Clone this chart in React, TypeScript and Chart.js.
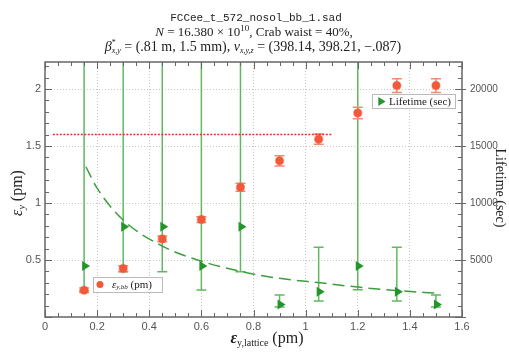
import React, { useEffect, useRef } from "react";
import { Chart, registerables } from "chart.js";

Chart.register(...registerables);

const xVals = [0.15, 0.3, 0.45, 0.6, 0.75, 0.9, 1.05, 1.2, 1.35, 1.5];
const bbVals = [0.235, 0.425, 0.685, 0.855, 1.138, 1.37, 1.56, 1.79, 2.03, 2.03];
const bbErr = [0.02, 0.025, 0.025, 0.025, 0.035, 0.045, 0.045, 0.05, 0.06, 0.06];
const lifeVals = [4470, 7920, 7920, 4470, 7920, 1100, 2220, 4470, 2220, 1100];
const lifeLow = [2300, 3970, 3970, 2370, 3970, 880, 1400, 2400, 1400, 880];
const lifeHigh = [40000, 40000, 40000, 40000, 40000, 1930, 6110, 40000, 6110, 1930];
const fitX = [0.157, 0.2, 0.3, 0.46, 0.607, 0.755, 0.9, 1.055, 1.21, 1.356, 1.503];
const fitY = [13180, 11300, 8510, 6110, 4850, 3970, 3390, 3000, 2600, 2310, 2080];
const refX = [0.03, 1.1];
const refY = [1.6, 1.6];
const y2Ticks = [5000, 10000, 15000, 20000];
const titleLine1 = "FCCee_t_572_nosol_bb_1.sad";

const RED = "#f2583a";
const RED_ERR = "#f08a70";
const GREEN = "#22962a";
const GREEN_LINE = "#62b862";
const SERIF = "'Liberation Serif', 'DejaVu Serif', serif";
const SANS = "'Liberation Sans', Arial, sans-serif";

type Seg = { t: string; size: number; italic?: boolean; bold?: boolean; dy?: number; fam?: string; noAdvance?: boolean };

function segFont(s: Seg) {
  return `${s.italic ? "italic " : ""}${s.bold ? "bold " : ""}${s.size}px ${s.fam || SERIF}`;
}

function richWidth(ctx: CanvasRenderingContext2D, segs: Seg[]) {
  let w = 0;
  for (const s of segs) {
    if (s.noAdvance) continue;
    ctx.font = segFont(s);
    w += ctx.measureText(s.t).width;
  }
  return w;
}

function drawRich(ctx: CanvasRenderingContext2D, segs: Seg[], x: number, y: number, align: "left" | "center", color: string) {
  const w = richWidth(ctx, segs);
  let cx = align === "center" ? x - w / 2 : x;
  ctx.fillStyle = color;
  ctx.textAlign = "left";
  ctx.textBaseline = "middle";
  for (const s of segs) {
    ctx.font = segFont(s);
    ctx.fillText(s.t, cx, y + (s.dy || 0));
    if (!s.noAdvance) cx += ctx.measureText(s.t).width;
  }
}

function drawTriangle(ctx: CanvasRenderingContext2D, x: number, y: number, r: number) {
  ctx.beginPath();
  ctx.moveTo(x + r, y);
  ctx.lineTo(x - r * 0.6, y - r);
  ctx.lineTo(x - r * 0.6, y + r);
  ctx.closePath();
  ctx.fill();
}

const decorPlugin = {
  id: "decor",
  beforeDatasetsDraw(chart: any) {
    const ctx = chart.ctx as CanvasRenderingContext2D;
    const a = chart.chartArea;
    const xs = chart.scales.x;
    const ys = chart.scales.y;
    const y2 = chart.scales.y2;
    ctx.save();
    ctx.beginPath();
    ctx.rect(a.left, a.top, a.right - a.left, a.bottom - a.top);
    ctx.clip();
    ctx.strokeStyle = GREEN_LINE;
    ctx.lineWidth = 1.5;
    for (let i = 0; i < xVals.length; i++) {
      const px = xs.getPixelForValue(xVals[i]);
      const lo = y2.getPixelForValue(lifeLow[i]);
      const hi = y2.getPixelForValue(lifeHigh[i]);
      ctx.beginPath();
      ctx.moveTo(px, lo);
      ctx.lineTo(px, hi);
      ctx.moveTo(px - 5, lo);
      ctx.lineTo(px + 5, lo);
      ctx.moveTo(px - 5, hi);
      ctx.lineTo(px + 5, hi);
      ctx.stroke();
    }
    ctx.strokeStyle = RED_ERR;
    ctx.lineWidth = 1.5;
    for (let i = 0; i < xVals.length; i++) {
      const px = xs.getPixelForValue(xVals[i]);
      const lo = ys.getPixelForValue(bbVals[i] - bbErr[i]);
      const hi = ys.getPixelForValue(bbVals[i] + bbErr[i]);
      ctx.beginPath();
      ctx.moveTo(px, lo);
      ctx.lineTo(px, hi);
      ctx.moveTo(px - 5, lo);
      ctx.lineTo(px + 5, lo);
      ctx.moveTo(px - 5, hi);
      ctx.lineTo(px + 5, hi);
      ctx.stroke();
    }
    ctx.restore();
  },
  afterDatasetsDraw(chart: any) {
    const ctx = chart.ctx as CanvasRenderingContext2D;
    const xs = chart.scales.x;
    const y2 = chart.scales.y2;
    ctx.save();
    ctx.fillStyle = GREEN;
    for (let i = 0; i < xVals.length; i++) {
      drawTriangle(ctx, xs.getPixelForValue(xVals[i]) + 1, y2.getPixelForValue(lifeVals[i]), 5);
    }
    ctx.restore();
  },
  afterDraw(chart: any) {
    const ctx = chart.ctx as CanvasRenderingContext2D;
    const a = chart.chartArea;
    const xs = chart.scales.x;
    const ys = chart.scales.y;
    const y2 = chart.scales.y2;
    ctx.save();
    ctx.strokeStyle = "#666";
    ctx.lineWidth = 1.5;
    ctx.strokeRect(a.left, a.top, a.right - a.left, a.bottom - a.top);
    ctx.lineWidth = 1;
    ctx.beginPath();
    for (let k = 0; k <= 32; k++) {
      const v = k * 0.05;
      const px = Math.round(xs.getPixelForValue(v)) + 0.5;
      const len = k % 4 === 0 ? 7 : 4;
      ctx.moveTo(px, a.bottom);
      ctx.lineTo(px, a.bottom - len);
      ctx.moveTo(px, a.top);
      ctx.lineTo(px, a.top + len);
    }
    for (let k = 0; k <= 22; k++) {
      const v = k * 0.1;
      const py = Math.round(ys.getPixelForValue(v)) + 0.5;
      const len = k % 5 === 0 ? 7 : 4;
      ctx.moveTo(a.left, py);
      ctx.lineTo(a.left + len, py);
    }
    for (let k = 0; k <= 22; k++) {
      const v = k * 1000;
      const py = Math.round(y2.getPixelForValue(v)) + 0.5;
      if (k % 5 === 0) {
        ctx.moveTo(a.right - 7, py);
        ctx.lineTo(a.right + 4, py);
      } else {
        ctx.moveTo(a.right, py);
        ctx.lineTo(a.right - 4, py);
      }
    }
    ctx.stroke();

    drawRich(ctx, [{ t: titleLine1, size: 11, fam: "'Liberation Mono', 'DejaVu Sans Mono', monospace" }], 256, 18, "center", "#222");
    drawRich(
      ctx,
      [
        { t: "N", size: 13, italic: true },
        { t: " = 16.380 × 10", size: 13 },
        { t: "10", size: 9, dy: -4 },
        { t: ", Crab waist = 40%,", size: 13 },
      ],
      254,
      33,
      "center",
      "#222"
    );
    drawRich(
      ctx,
      [
        { t: "β", size: 14, italic: true },
        { t: "*", size: 8, dy: -4, noAdvance: true },
        { t: "x,y", size: 8, italic: true, dy: 4 },
        { t: " = (.81 m, 1.5 mm), ", size: 14 },
        { t: "ν", size: 14, italic: true },
        { t: "x,y,z", size: 8, italic: true, dy: 4 },
        { t: " = (398.14, 398.21, −.087)", size: 14 },
      ],
      253,
      47,
      "center",
      "#222"
    );

    drawRich(
      ctx,
      [
        { t: "ε", size: 16, italic: true, bold: true },
        { t: "y,lattice", size: 10, dy: 4 },
        { t: " (pm)", size: 16 },
      ],
      267,
      339,
      "center",
      "#222"
    );

    ctx.save();
    ctx.translate(18, 193);
    ctx.rotate(-Math.PI / 2);
    drawRich(
      ctx,
      [
        { t: "ε", size: 16, italic: true },
        { t: "y", size: 10, italic: true, dy: 4 },
        { t: " (pm)", size: 16 },
      ],
      0,
      0,
      "center",
      "#222"
    );
    ctx.restore();

    ctx.save();
    ctx.translate(500, 188);
    ctx.rotate(Math.PI / 2);
    drawRich(ctx, [{ t: "Lifetime (sec)", size: 14 }], 0, 0, "center", "#222");
    ctx.restore();

    ctx.fillStyle = "#fff";
    ctx.strokeStyle = "#bbb";
    ctx.lineWidth = 1;
    ctx.fillRect(372, 94, 83, 14);
    ctx.strokeRect(372.5, 94.5, 83, 14);
    ctx.fillStyle = GREEN;
    drawTriangle(ctx, 381, 101.5, 4.5);
    drawRich(ctx, [{ t: "Lifetime (sec)", size: 11 }], 389, 102, "left", "#222");

    ctx.fillStyle = "#fff";
    ctx.strokeStyle = "#bbb";
    ctx.fillRect(93, 277, 69, 15);
    ctx.strokeRect(93.5, 277.5, 69, 15);
    ctx.fillStyle = RED;
    ctx.beginPath();
    ctx.arc(100, 284.5, 3.5, 0, Math.PI * 2);
    ctx.fill();
    drawRich(
      ctx,
      [
        { t: "ε", size: 11, italic: true },
        { t: "y,bb", size: 7, italic: true, dy: 2.5 },
        { t: " (pm)", size: 11 },
      ],
      112,
      285,
      "left",
      "#222"
    );
    ctx.restore();
  },
};

export default function App() {
  const ref = useRef<HTMLCanvasElement | null>(null);
  useEffect(() => {
    if (!ref.current) return;
    const gridColor = (c: any) => {
      const v = c.tick ? c.tick.value : 0;
      if (c.scale.id === "x" && (v <= 0.001 || v >= 1.599)) return "rgba(0,0,0,0)";
      if (c.scale.id === "y" && v <= 0.001) return "rgba(0,0,0,0)";
      return "#c8c8c8";
    };
    const chart = new Chart(ref.current, {
      type: "scatter",
      data: {
        datasets: [
          {
            label: "ref",
            type: "line",
            data: refX.map((x, i) => ({ x, y: refY[i] })),
            yAxisID: "y",
            borderColor: "#e0302a",
            borderWidth: 1.5,
            borderDash: [2, 1.5],
            pointRadius: 0,
            fill: false,
          } as any,
          {
            label: "fit",
            type: "line",
            data: fitX.map((x, i) => ({ x, y: fitY[i] })),
            yAxisID: "y2",
            borderColor: "#3e9e3e",
            borderWidth: 1.5,
            borderDash: [12, 6],
            pointRadius: 0,
            cubicInterpolationMode: "monotone",
            fill: false,
          } as any,
          {
            label: "ε_y,bb (pm)",
            data: xVals.map((x, i) => ({ x, y: bbVals[i] })),
            yAxisID: "y",
            pointRadius: 4,
            pointStyle: "circle",
            backgroundColor: RED,
            borderColor: "rgba(242,88,58,0.45)",
            borderWidth: 1.5,
          },
        ],
      },
      options: {
        responsive: false,
        animation: false,
        events: [],
        layout: { padding: { top: 62, left: 0, right: 0, bottom: 0 } },
        plugins: { legend: { display: false }, tooltip: { enabled: false }, title: { display: false } },
        scales: {
          x: {
            type: "linear",
            min: 0,
            max: 1.6,
            ticks: {
              stepSize: 0.2,
              includeBounds: false,
              padding: 3,
              color: "#555",
              font: { family: SANS, size: 11 },
              callback: (v: any) => String(Number(Number(v).toFixed(1))),
            },
            grid: { color: gridColor, drawTicks: false, tickLength: 0, lineWidth: 1 },
            border: { display: false, dash: [1, 2] },
            afterFit: (s: any) => {
              s.height = 35;
            },
          },
          y: {
            type: "linear",
            position: "left",
            min: 0,
            max: 2.237,
            ticks: {
              stepSize: 0.5,
              includeBounds: false,
              padding: 4,
              color: "#555",
              font: { family: SANS, size: 11 },
              callback: (v: any) => (Number(v) === 0 ? "" : String(Number(Number(v).toFixed(1)))),
            },
            grid: { color: gridColor, drawTicks: false, tickLength: 0, lineWidth: 1 },
            border: { display: false, dash: [1, 2] },
            afterFit: (s: any) => {
              s.width = 45;
            },
          },
          y2: {
            type: "linear",
            position: "right",
            min: 0,
            max: 22370,
            afterBuildTicks: (s: any) => {
              s.ticks = y2Ticks.map((v) => ({ value: v }));
            },
            ticks: {
              padding: 8,
              color: "#555",
              font: { family: SANS, size: 10 },
              callback: (v: any) => String(v),
            },
            grid: { display: false, drawTicks: false, tickLength: 0 },
            border: { display: false },
            afterFit: (s: any) => {
              s.width = 47;
            },
          },
        },
      },
      plugins: [decorPlugin],
    } as any);
    return () => chart.destroy();
  }, []);
  return (
    <div style={{ position: "fixed", left: 0, top: 0, width: 509, height: 352, background: "#fff" }}>
      <canvas ref={ref} width={509} height={352} />
    </div>
  );
}
